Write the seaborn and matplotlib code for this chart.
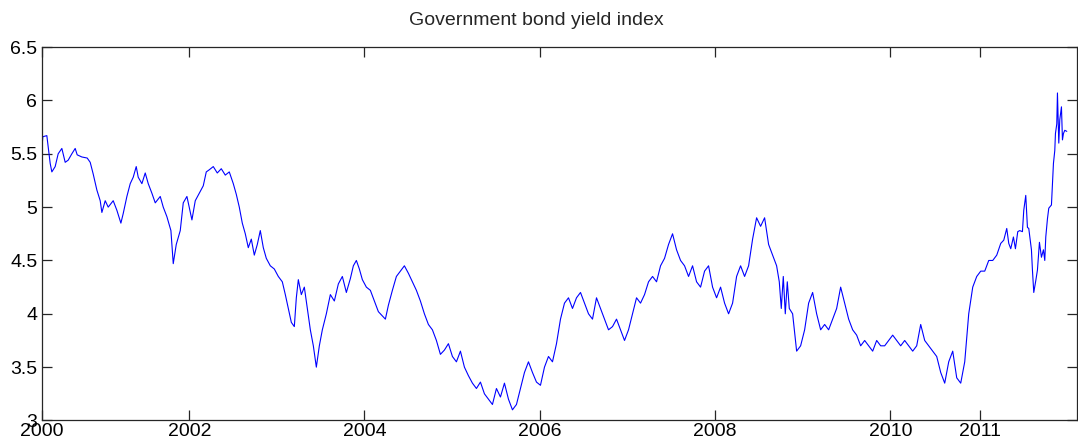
import matplotlib
matplotlib.use("Agg")
import matplotlib.pyplot as plt
import seaborn as sns
import pandas as pd

# Government bond yield index: trading-day index and yield level (%)
day = [
    2, 4, 16, 26, 31, 41, 50, 61, 71, 80, 91, 101, 107, 121, 137, 146, 155,
    166, 176, 181, 191, 200, 215, 226, 238, 245, 256, 266, 275, 284, 290,
    301, 311, 320, 331, 341, 356, 365, 376, 388, 395, 404, 416, 425, 436,
    451, 461, 473, 485, 494, 503, 515, 527, 539, 551, 563, 575, 584, 593,
    602, 611, 620, 629, 638, 647, 656, 665, 674, 686, 698, 710, 722, 731,
    740, 749, 758, 764, 770, 779, 788, 797, 806, 815, 824, 833, 842, 854,
    866, 878, 890, 902, 914, 926, 935, 944, 953, 962, 974, 986, 998, 1010,
    1022, 1031, 1040, 1052, 1064, 1076, 1088, 1100, 1112, 1124, 1136, 1148,
    1160, 1172, 1184, 1196, 1208, 1220, 1232, 1244, 1256, 1268, 1280, 1292,
    1304, 1316, 1328, 1340, 1352, 1364, 1376, 1388, 1400, 1412, 1424, 1436,
    1448, 1460, 1472, 1484, 1496, 1508, 1520, 1532, 1544, 1556, 1568, 1580,
    1592, 1604, 1616, 1628, 1640, 1652, 1664, 1676, 1688, 1700, 1712, 1724,
    1736, 1748, 1760, 1772, 1784, 1796, 1808, 1820, 1832, 1844, 1856, 1868,
    1880, 1892, 1904, 1916, 1928, 1940, 1952, 1964, 1976, 1988, 2000, 2012,
    2024, 2036, 2048, 2060, 2072, 2084, 2096, 2108, 2120, 2132, 2144, 2156,
    2168, 2180, 2192, 2204, 2212, 2218, 2224, 2230, 2236, 2242, 2252, 2264,
    2276, 2288, 2300, 2312, 2324, 2336, 2348, 2360, 2372, 2384, 2396, 2408,
    2420, 2432, 2444, 2456, 2468, 2480, 2492, 2504, 2516, 2528, 2540, 2552,
    2564, 2576, 2588, 2600, 2612, 2624, 2636, 2648, 2660, 2672, 2684, 2696,
    2708, 2720, 2732, 2744, 2756, 2768, 2780, 2792, 2804, 2816, 2828, 2840,
    2852, 2864, 2876, 2885, 2894, 2900, 2906, 2914, 2920, 2927, 2933, 2941,
    2945, 2951, 2956, 2960, 2968, 2971, 2975, 2981, 2986, 2992, 2998, 3004,
    3008, 3011, 3016, 3020, 3028, 3031, 3034, 3038, 3040, 3044, 3046, 3050,
    3053, 3058, 3061, 3064, 3068, 3074,
]
yield_pct = [
    5.58, 5.66, 5.67, 5.41, 5.33, 5.38, 5.50, 5.55, 5.42, 5.44, 5.50, 5.55,
    5.49, 5.47, 5.46, 5.42, 5.31, 5.16, 5.06, 4.95, 5.06, 5.00, 5.06, 4.97,
    4.85, 4.94, 5.10, 5.22, 5.28, 5.38, 5.28, 5.22, 5.32, 5.22, 5.13, 5.04,
    5.10, 5.00, 4.91, 4.78, 4.47, 4.65, 4.78, 5.04, 5.10, 4.88, 5.06, 5.13,
    5.20, 5.33, 5.35, 5.38, 5.32, 5.36, 5.30, 5.33, 5.22, 5.12, 5.00, 4.85,
    4.75, 4.62, 4.70, 4.55, 4.65, 4.78, 4.62, 4.52, 4.45, 4.42, 4.35, 4.30,
    4.18, 4.05, 3.92, 3.88, 4.15, 4.32, 4.18, 4.25, 4.05, 3.85, 3.70, 3.50,
    3.70, 3.85, 4.00, 4.18, 4.12, 4.28, 4.35, 4.20, 4.33, 4.45, 4.50, 4.42,
    4.32, 4.25, 4.22, 4.12, 4.02, 3.98, 3.95, 4.08, 4.22, 4.35, 4.40, 4.45,
    4.38, 4.30, 4.22, 4.12, 4.00, 3.90, 3.85, 3.75, 3.62, 3.66, 3.72, 3.60,
    3.55, 3.65, 3.50, 3.42, 3.35, 3.30, 3.36, 3.25, 3.20, 3.15, 3.30, 3.22,
    3.35, 3.20, 3.10, 3.15, 3.30, 3.45, 3.55, 3.45, 3.36, 3.33, 3.50, 3.60,
    3.55, 3.72, 3.95, 4.10, 4.15, 4.05, 4.15, 4.20, 4.10, 4.00, 3.95, 4.15,
    4.05, 3.95, 3.85, 3.88, 3.95, 3.85, 3.75, 3.85, 4.00, 4.15, 4.10, 4.18,
    4.30, 4.35, 4.30, 4.45, 4.52, 4.65, 4.75, 4.60, 4.50, 4.45, 4.35, 4.45,
    4.30, 4.25, 4.40, 4.45, 4.25, 4.15, 4.25, 4.10, 4.00, 4.10, 4.35, 4.45,
    4.35, 4.45, 4.70, 4.90, 4.82, 4.90, 4.65, 4.55, 4.45, 4.30, 4.05, 4.35,
    4.00, 4.30, 4.05, 4.00, 3.65, 3.70, 3.85, 4.10, 4.20, 4.00, 3.85, 3.90,
    3.85, 3.95, 4.05, 4.25, 4.10, 3.95, 3.85, 3.80, 3.70, 3.75, 3.70, 3.65,
    3.75, 3.70, 3.70, 3.75, 3.80, 3.75, 3.70, 3.75, 3.70, 3.65, 3.70, 3.90,
    3.75, 3.70, 3.65, 3.60, 3.45, 3.35, 3.55, 3.65, 3.40, 3.35, 3.55, 4.00,
    4.25, 4.35, 4.40, 4.40, 4.50, 4.50, 4.55, 4.66, 4.69, 4.80, 4.66, 4.61,
    4.72, 4.61, 4.77, 4.78, 4.77, 4.97, 5.11, 4.81, 4.80, 4.60, 4.41, 4.20,
    4.31, 4.41, 4.67, 4.53, 4.60, 4.50, 4.72, 4.89, 4.99, 5.02, 5.22, 5.41,
    5.53, 5.69, 5.78, 6.07, 5.60, 5.82, 5.94, 5.63, 5.69, 5.72, 5.71,
]
df = pd.DataFrame({"day": day, "yield": yield_pct})

# Year labels placed at the trading-day index where each label falls
tick_days = [0, 443, 968, 1495, 2020, 2545, 2813]
tick_labels = ["2000", "2002", "2004", "2006", "2008", "2010", "2011"]
y_ticks = [3, 3.5, 4, 4.5, 5, 5.5, 6, 6.5]

sns.set_style("white")
plt.rcParams["font.family"] = ["Liberation Sans", "DejaVu Sans"]

fig = plt.figure(figsize=(10.78, 4.48), dpi=100)
ax = fig.add_axes([0.0385, 0.0614, 0.961, 0.8335])

sns.lineplot(data=df, x="day", y="yield", color="#0000ff", linewidth=0.8,
             ax=ax, estimator=None, sort=False)

ax.set_xlim(0, 3106)
ax.set_ylim(3, 6.5)
ax.set_xticks(tick_days)
ax.set_xticklabels(tick_labels)
ax.set_yticks(y_ticks)
ax.set_yticklabels([f"{v:g}" for v in y_ticks])
ax.set_xlabel("")
ax.set_ylabel("")
ax.set_title("Government bond yield index", fontsize=14, x=0.4775, pad=16)

for side in ["left", "right", "top", "bottom"]:
    ax.spines[side].set_visible(True)
    ax.spines[side].set_color("#262626")
    ax.spines[side].set_linewidth(0.9)
ax.tick_params(axis="both", which="major", direction="in", length=7.5,
               width=0.9, color="#262626", labelsize=14, labelcolor="black",
               top=True, right=True, left=True, bottom=True)
ax.tick_params(axis="x", pad=2)
ax.tick_params(axis="y", pad=3)

fig.savefig("out.png", dpi=100)
